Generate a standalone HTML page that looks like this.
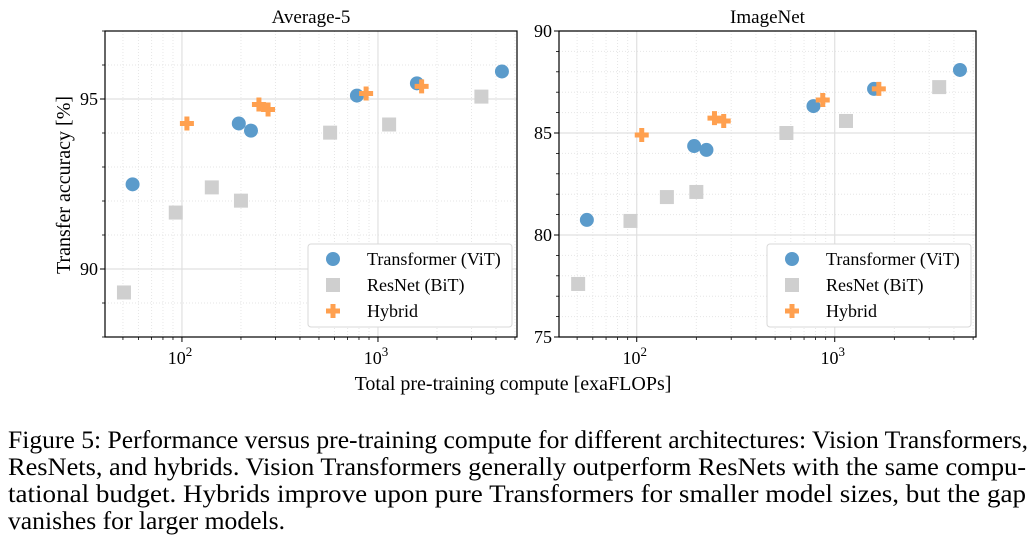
<!DOCTYPE html>
<html><head><meta charset="utf-8"><style>
html,body{margin:0;padding:0;background:#fff;}
svg{display:block;font-family:"Liberation Serif",serif;}
</style></head><body>
<svg id="fig" width="1033" height="543" viewBox="0 0 1033 543">
<g id="caption" font-size="25" fill="#000">
<text x="8" y="448" textLength="1020" lengthAdjust="spacingAndGlyphs">Figure 5: Performance versus pre-training compute for different architectures: Vision Transformers,</text>
<text x="8" y="475" textLength="1018" lengthAdjust="spacingAndGlyphs">ResNets, and hybrids.  Vision Transformers generally outperform ResNets with the same compu-</text>
<text x="8" y="502" textLength="1018" lengthAdjust="spacingAndGlyphs">tational budget.  Hybrids improve upon pure Transformers for smaller model sizes, but the gap</text>
<text x="8" y="529" textLength="277" lengthAdjust="spacingAndGlyphs">vanishes for larger models.</text>
</g>
</svg>
<script>
// Average-5 data
const vitX=[56,195,225,781,1580,4290];
const vitAvg=[92.49,94.28,94.07,95.10,95.46,95.81];
const bitX=[50.6,93,142,200,570,1140,3370];
const bitAvg=[89.31,91.66,92.40,92.01,94.01,94.25,95.07];
const hybX=[106,247,275,870,1670];
const hybAvg=[94.28,94.84,94.69,95.16,95.37];
// ImageNet data
const vitIN=[80.74,84.36,84.17,86.32,87.16,88.09];
const bitIN=[77.60,80.69,81.86,82.11,85.0,85.59,87.25];
const hybIN=[84.90,85.73,85.59,86.62,87.16];
const avgYTicks=[90,95];
const inYTicks=[75,80,85,90];
const xTickExp=[2,3];

const NS="http://www.w3.org/2000/svg";
const svg=document.getElementById('fig');
function mk(tag,attrs,parent){const e=document.createElementNS(NS,tag);for(const k in attrs)e.setAttribute(k,attrs[k]);(parent||svg).appendChild(e);return e;}

function panel(cfg){
  const {x0,x1,y0,y1,xmin,xmax,ymin,ymax,title,yTicks,ySeries,name}=cfg;
  const g=mk('g',{});
  
  
  const lx=Math.log10(xmin),hx=Math.log10(xmax);
  const X=v=>x0+(Math.log10(v)-lx)/(hx-lx)*(x1-x0);
  const Y=v=>y1-(v-ymin)/(ymax-ymin)*(y1-y0);
  for(let d=1;d<=3;d++)for(let m=2;m<=9;m++){const v=m*Math.pow(10,d);if(v<xmin||v>xmax)continue;const px=X(v);
    mk('line',{x1:px,x2:px,y1:y0,y2:y1,stroke:'#e6e6e6','stroke-width':1,'stroke-dasharray':'1,2'},g);
    mk('line',{x1:px,x2:px,y1:y1,y2:y1+3,stroke:'#000','stroke-width':0.8},g);}
  for(let v=Math.ceil(ymin);v<=ymax;v++){if(yTicks.includes(v))continue;const py=Y(v);
    mk('line',{x1:x0,x2:x1,y1:py,y2:py,stroke:'#e6e6e6','stroke-width':1,'stroke-dasharray':'1,2'},g);
    mk('line',{x1:x0-3,x2:x0,y1:py,y2:py,stroke:'#000','stroke-width':0.8},g);}
  xTickExp.forEach(e=>{const px=X(Math.pow(10,e));
    mk('line',{x1:px,x2:px,y1:y0,y2:y1,stroke:'#e0e0e0','stroke-width':1.2},g);
    mk('line',{x1:px,x2:px,y1:y1,y2:y1+5,stroke:'#000','stroke-width':1},g);
    const t=mk('text',{x:px-2,y:y1+27,'font-size':18,'text-anchor':'middle'},g);
    
    
    t.textContent='10';
    const s=mk('tspan',{'font-size':13,dy:-8},t);s.textContent=e;});
  yTicks.forEach(v=>{const py=Y(v);
    mk('line',{x1:x0,x2:x1,y1:py,y2:py,stroke:'#e0e0e0','stroke-width':1.2},g);
    mk('line',{x1:x0-5,x2:x0,y1:py,y2:py,stroke:'#000','stroke-width':1},g);
    const t=mk('text',{x:x0-7,y:py+6,'font-size':18,'text-anchor':'end'},g);
    
    
    t.textContent=v;});
  const blue='#5b9bcb',gray='#cfcfcf',orange='#ffa04f';
  bitX.forEach((x,i)=>{const r=mk('rect',{x:X(x)-7,y:Y(ySeries.bit[i])-7,width:14,height:14,fill:gray},g);
    });
  vitX.forEach((x,i)=>{const c=mk('circle',{cx:X(x),cy:Y(ySeries.vit[i]),r:7,fill:blue},g);
    });
  hybX.forEach((x,i)=>{const cx=X(x),cy=Y(ySeries.hyb[i]);
    const p=mk('path',{d:`M${cx-2.5},${cy-7}h5v4.5h4.5v5h-4.5v4.5h-5v-4.5h-4.5v-5h4.5z`,fill:orange},g);
    });
  mk('rect',{x:x0,y:y0,width:x1-x0,height:y1-y0,fill:'none',stroke:'#000','stroke-width':1.2},g);
  const tt=mk('text',{x:(x0+x1)/2,y:y0-8,'font-size':19,'text-anchor':'middle'},g);
  
  
  tt.textContent=title;
  const lg=mk('g',{},g);
  
  
  const lx0=x1-209,ly0=y1-93;
  mk('rect',{x:lx0,y:ly0,width:204,height:83,rx:3,fill:'#fff',stroke:'#d8d8d8','stroke-width':1},lg);
  const mx=lx0+25,tx=lx0+59;
  mk('circle',{cx:mx,cy:ly0+15,r:7,fill:blue},lg);
  mk('rect',{x:mx-7,y:ly0+34,width:14,height:14,fill:gray},lg);
  const cy=ly0+67;
  mk('path',{d:`M${mx-2.5},${cy-7}h5v4.5h4.5v5h-4.5v4.5h-5v-4.5h-4.5v-5h4.5z`,fill:orange},lg);
  [['Transformer (ViT)',15],['ResNet (BiT)',41],['Hybrid',67]].forEach(([s,dy])=>{
    const t=mk('text',{x:tx,y:ly0+dy+6,'font-size':18},lg);
    
    
    t.textContent=s;});
}
panel({name:'average5-panel',x0:105,x1:517,y0:31,y1:337,xmin:40.5,xmax:5120,ymin:88,ymax:97,title:'Average-5',yTicks:avgYTicks,ySeries:{vit:vitAvg,bit:bitAvg,hyb:hybAvg}});
panel({name:'imagenet-panel',x0:559,x1:976,y0:31,y1:337,xmin:40.5,xmax:5170,ymin:75,ymax:90,title:'ImageNet',yTicks:inYTicks,ySeries:{vit:vitIN,bit:bitIN,hyb:hybIN}});
const yl=mk('text',{x:0,y:0,'font-size':20,'text-anchor':'middle',transform:'translate(70,185) rotate(-90)'});


yl.textContent='Transfer accuracy [%]';
const xl=mk('text',{x:513,y:390,'font-size':20,'text-anchor':'middle'});


xl.textContent='Total pre-training compute [exaFLOPs]';
</script>
</body></html>
